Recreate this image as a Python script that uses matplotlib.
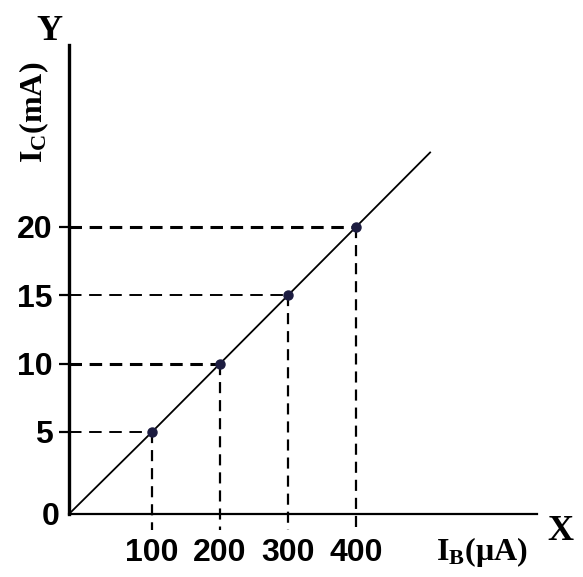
import matplotlib
matplotlib.use("Agg")
import matplotlib.pyplot as plt

# ---- data ----
ib_values = [100, 200, 300, 400]          # I_B (uA)
ic_values = [5, 10, 15, 20]               # I_C (mA)
x_tick_labels = ["100", "200", "300", "400"]
y_tick_labels = ["5", "10", "15", "20"]
line_end = (510, 25.5)                    # where the drawn line stops

# axis crossing point (sketch origin sits slightly off data zero)
x0, y0 = -22, -1.0

num_font = "Liberation Sans"
serif = "Liberation Serif"

plt.rcParams["lines.scale_dashes"] = False
plt.rcParams["mathtext.fontset"] = "custom"
plt.rcParams["mathtext.bf"] = "Liberation Serif:bold"
plt.rcParams["mathtext.rm"] = "Liberation Serif:bold"
plt.rcParams["mathtext.it"] = "Liberation Serif:bold"

W, H = 583, 577
fig = plt.figure(figsize=(W / 100, H / 100), dpi=100)
left_px, right_px, top_px, bot_px = 69, 537, 45, 514
ax = fig.add_axes([left_px / W, (H - bot_px) / H,
                   (right_px - left_px) / W, (bot_px - top_px) / H])
xs = 0.68      # px per uA
ys = 13.667    # px per mA
ax.set_xlim(x0, x0 + (right_px - left_px) / xs)
ax.set_ylim(y0, y0 + (bot_px - top_px) / ys)

for s in ["top", "right"]:
    ax.spines[s].set_visible(False)
ax.spines["left"].set_linewidth(2.4)
ax.spines["bottom"].set_linewidth(1.6)
ax.spines["left"].set_position(("data", x0))
ax.spines["bottom"].set_position(("data", y0))

# main line
ax.plot([x0] + ib_values + [line_end[0]], [y0] + ic_values + [line_end[1]],
        color="black", lw=1.3, solid_capstyle="butt", zorder=3)

# dashed guides
for xv, yv in zip(ib_values, ic_values):
    lw = 2.2 if yv in (10, 20) else 1.4
    ax.plot([x0, xv], [yv, yv], color="black", lw=lw, dashes=(9, 5.5), zorder=2,
            clip_on=False)
    ax.plot([xv, xv], [yv, y0 - 1.2], color="black", lw=1.6, dashes=(8, 5), zorder=2,
            clip_on=False)

ax.plot(ib_values, ic_values, "o", color="#1c1c40", ms=6.5, zorder=4)

# ticks
ax.set_yticks(ic_values)
ax.set_yticklabels(y_tick_labels, fontfamily=num_font, fontweight="bold", fontsize=23)
ax.tick_params(axis="y", length=7, width=1.6, pad=5, direction="out")
ax.set_xticks(ib_values)
ax.set_xticklabels(x_tick_labels, fontfamily=num_font, fontweight="bold", fontsize=23)
ax.tick_params(axis="x", length=0, pad=17)

ax.annotate("0", xy=(x0, y0), xytext=(-13, -2), textcoords="offset points",
            ha="center", va="center", fontfamily=num_font, fontweight="bold",
            fontsize=23, annotation_clip=False)

# labels
fig.text(49 / W, 1 - 31 / H, "Y", family=serif, weight="bold", fontsize=26,
         ha="center", va="center")
fig.text(560 / W, 1 - 531 / H, "X", family=serif, weight="bold", fontsize=26,
         ha="center", va="center")
fig.text(34 / W, 1 - 112 / H, r"$\mathbf{I_C(mA)}$", fontsize=23,
         ha="center", va="center", rotation=90)
fig.text(482 / W, 1 - 552 / H, r"$\mathbf{I_B(\mu A)}$", fontsize=23,
         ha="center", va="center")

fig.savefig("out.png", dpi=100)
